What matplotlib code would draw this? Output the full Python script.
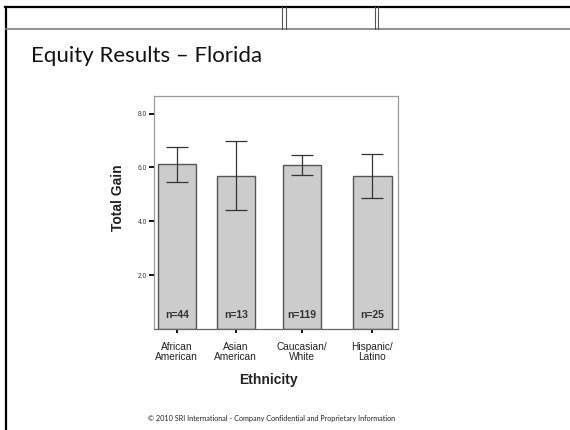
import matplotlib
matplotlib.use("Agg")
import matplotlib.pyplot as plt
from matplotlib.lines import Line2D

# ---- data ----
categories = ["African\nAmerican", "Asian\nAmerican", "Caucasian/\nWhite", "Hispanic/\nLatino"]
means = [6.11, 5.68, 6.07, 5.69]
err_low = [5.47, 4.41, 5.71, 4.85]
err_high = [6.74, 6.99, 6.46, 6.49]
n_labels = ["n=44", "n=13", "n=119", "n=25"]
yticks = [2.0, 4.0, 6.0, 8.0]
ytick_labels = ["2.0", "4.0", "6.0", "8.0"]

# layout (bar centres as drawn in the source slide)
bar_pos = [0.0, 1.0, 2.12, 3.315]

W, H = 570, 430
fig = plt.figure(figsize=(W / 100, H / 100), dpi=100)
fig.patch.set_facecolor("white")

def fx(x):
    return x / W

def fy(y):
    return 1 - y / H

# slide decoration
fig.add_artist(Line2D([fx(6), fx(6)], [fy(7), fy(430)], color="black", lw=1.6))
fig.add_artist(Line2D([fx(5.2), fx(570)], [fy(7), fy(7)], color="black", lw=1.6))
fig.add_artist(Line2D([fx(6), fx(570)], [fy(29), fy(29)], color="#7f7f7f", lw=1.2))
for xv in [281.7, 285.7, 375, 378]:
    fig.add_artist(Line2D([fx(xv), fx(xv)], [fy(7), fy(29)], color="#555555", lw=0.8))

fig.text(fx(31), fy(62.5), "Equity Results \u2013 Florida", family="Lato", fontsize=16,
         va="baseline", ha="left", color="#111111")
fig.text(fx(272), fy(419), "\u00a9 2010 SRI International - Company Confidential and Proprietary Information",
         family="Lato", fontsize=5.2, ha="center", va="center", color="#222222")

# axes
ax = fig.add_axes([fx(154), fy(329), (398 - 154) / W, (329 - 96) / H])
ax.bar(bar_pos, means, width=0.65, color="#cccccc", edgecolor="#555555", linewidth=1.0, zorder=2)
lower = [m - l for m, l in zip(means, err_low)]
upper = [h - m for m, h in zip(means, err_high)]
ax.errorbar(bar_pos, means, yerr=[lower, upper], fmt="none", ecolor="#333333",
            elinewidth=0.9, capsize=7.8, capthick=0.9, zorder=3)
for x, t in zip(bar_pos, n_labels):
    ax.text(x, 0.52, t, ha="center", va="center", fontsize=7.5, fontweight="bold",
            family="Liberation Sans", color="#333333", zorder=4)

ax.set_xlim(-0.385, 3.75)
ax.set_ylim(0, 8.65)
ax.set_yticks(yticks)
ax.set_yticklabels(ytick_labels, fontsize=4.8, family="Liberation Sans", color="#333333")
ax.set_xticks(bar_pos)
ax.set_xticklabels(categories, fontsize=7.3, family="Liberation Sans", color="#222222",
                   linespacing=1.1)
ax.tick_params(axis="y", direction="out", length=3.5, width=1.3, color="black", pad=1.5)
ax.tick_params(axis="x", direction="out", length=3, width=1.3, color="black", pad=6)
for s in ax.spines.values():
    s.set_color("#9a9a9a")
    s.set_linewidth(0.9)
ax.spines["bottom"].set_color("#666666")

ax.text(-0.1475, 0.564, "Total Gain", transform=ax.transAxes, rotation=90, ha="center",
        va="center", fontsize=10, fontweight="bold", family="Liberation Sans", color="#222222")
ax.text(0.467, -0.219, "Ethnicity", transform=ax.transAxes, ha="center", va="center",
        fontsize=10, fontweight="bold", family="Liberation Sans", color="#222222")

fig.savefig("out.png", dpi=100, facecolor="white")
